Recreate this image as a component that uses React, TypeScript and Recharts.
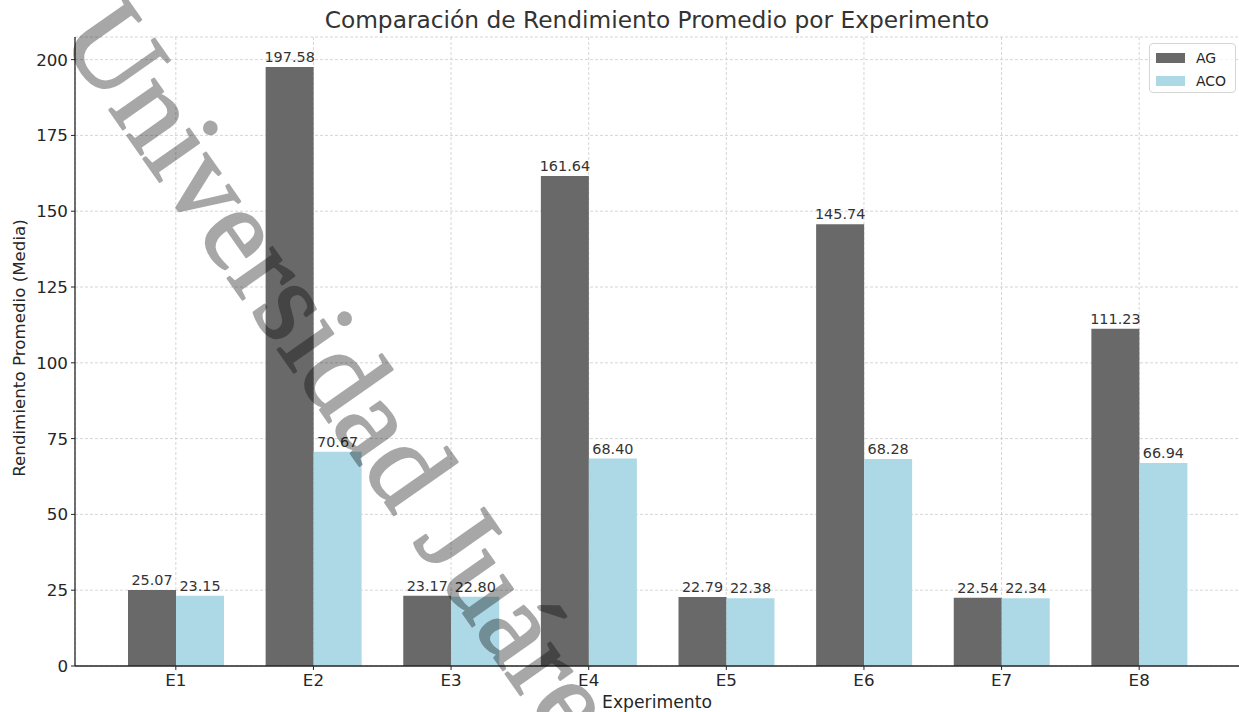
import { Bar, BarChart, CartesianGrid, LabelList, XAxis, YAxis } from "recharts";

const experiments = ["E1", "E2", "E3", "E4", "E5", "E6", "E7", "E8"];
const agValues = [25.07, 197.58, 23.17, 161.64, 22.79, 145.74, 22.54, 111.23];
const acoValues = [23.15, 70.67, 22.8, 68.4, 22.38, 68.28, 22.34, 66.94];
const yTicks = [0, 25, 50, 75, 100, 125, 150, 175, 200];

const data = experiments.map((name, i) => ({
  name,
  AG: agValues[i],
  ACO: acoValues[i],
}));

const FONT = "'DejaVu Sans', sans-serif";
const TEXT = "#262626";
const AG_COLOR = "#696969";
const ACO_COLOR = "#add8e6";

const TICK = { fill: TEXT, fontSize: 16.7, fontFamily: FONT };
const BAR_LABEL = { fill: "#333", fontSize: 14.4, fontFamily: FONT };

const fmt = (v: unknown) => Number(v).toFixed(2);

function LegendBox() {
  const rows = [
    { name: "AG", color: AG_COLOR },
    { name: "ACO", color: ACO_COLOR },
  ];
  return (
    <div
      style={{
        position: "absolute",
        left: 1149,
        top: 43,
        width: 87,
        height: 50,
        boxSizing: "border-box",
        border: "1px solid #d5d5d5",
        borderRadius: 4,
        background: "rgba(255,255,255,0.8)",
        fontFamily: FONT,
        fontSize: 14,
        color: TEXT,
      }}
    >
      {rows.map((r, i) => (
        <div
          key={r.name}
          style={{
            position: "absolute",
            left: 6,
            top: 5 + i * 23,
            display: "flex",
            alignItems: "center",
            height: 18,
          }}
        >
          <span style={{ width: 29, height: 10, background: r.color, display: "inline-block" }} />
          <span style={{ marginLeft: 11 }}>{r.name}</span>
        </div>
      ))}
    </div>
  );
}

export default function App() {
  return (
    <div
      style={{
        position: "absolute",
        left: 0,
        top: 0,
        width: 1239,
        height: 712,
        background: "#fff",
        overflow: "hidden",
      }}
    >
      <BarChart
        width={1239}
        height={712}
        data={data}
        margin={{ top: 37, right: -1, bottom: 0, left: 0 }}
        barSize={48}
        barGap={0}
      >
        <CartesianGrid stroke="#cccccc" strokeDasharray="3 2" strokeWidth={0.8} />
        <XAxis
          dataKey="name"
          height={46}
          padding={{ left: 32, right: 32 }}
          tick={TICK}
          tickSize={4}
          tickMargin={4}
          axisLine={{ stroke: TEXT, strokeWidth: 1.3 }}
          tickLine={{ stroke: TEXT }}
        />
        <YAxis
          width={75}
          domain={[0, 207.46]}
          ticks={yTicks}
          tick={TICK}
          tickSize={4}
          tickMargin={3}
          axisLine={{ stroke: TEXT, strokeWidth: 1.3 }}
          tickLine={{ stroke: TEXT }}
        />
        <Bar dataKey="AG" fill={AG_COLOR} isAnimationActive={false}>
          <LabelList dataKey="AG" position="top" offset={5} formatter={fmt} style={BAR_LABEL} />
        </Bar>
        <Bar dataKey="ACO" fill={ACO_COLOR} isAnimationActive={false}>
          <LabelList dataKey="ACO" position="top" offset={5} formatter={fmt} style={BAR_LABEL} />
        </Bar>
      </BarChart>

      <LegendBox />

      <svg
        width={1239}
        height={712}
        style={{ position: "absolute", left: 0, top: 0, pointerEvents: "none" }}
      >
        <text x={657} y={28} textAnchor="middle" fontFamily={FONT} fontSize={23.3} fill="#333">
          Comparación de Rendimiento Promedio por Experimento
        </text>
        <text x={657} y={708} textAnchor="middle" fontFamily={FONT} fontSize={17.2} fill={TEXT}>
          Experimento
        </text>
        <text
          x={0}
          y={0}
          transform="translate(25,348) rotate(-90)"
          textAnchor="middle"
          fontFamily={FONT}
          fontSize={16.7}
          fill={TEXT}
        >
          Rendimiento Promedio (Media)
        </text>
        {/* watermark: group opacity so the stroke does not double the alpha */}
        <g opacity={0.34}>
          <text
            x={58}
            y={37}
            transform="rotate(54.9,58,37)"
            fontFamily="'Liberation Serif', serif"
            fontSize={119}
            letterSpacing={0.4}
            fill="#000"
            stroke="#000"
            strokeWidth={2.2}
            strokeLinejoin="round"
          >
            Universidad Juárez
          </text>
        </g>
      </svg>
    </div>
  );
}
